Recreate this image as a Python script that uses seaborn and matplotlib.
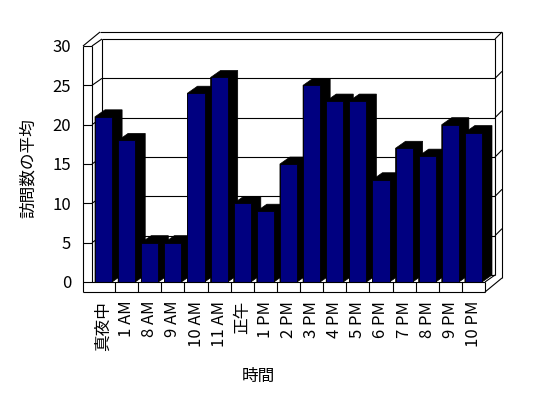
import matplotlib
matplotlib.use('Agg')
import matplotlib.pyplot as plt
from matplotlib.patches import Polygon
from matplotlib.lines import Line2D
import pandas as pd
import seaborn as sns

categories = ['真夜中', '1 AM', '8 AM', '9 AM', '10 AM', '11 AM', '正午', '1 PM', '2 PM',
              '3 PM', '4 PM', '5 PM', '6 PM', '7 PM', '8 PM', '9 PM', '10 PM']
visits = [21, 18, 5, 5, 24, 26, 10, 9, 15, 25, 23, 23, 13, 17, 16, 20, 19]
y_ticks = [0, 5, 10, 15, 20, 25, 30]
x_title = '時間'
y_title = '訪問数の平均'

sns.set_style('white')
plt.rcParams['font.family'] = ['Noto Sans CJK JP', 'DejaVu Sans']
plt.rcParams['text.color'] = 'black'
plt.rcParams['xtick.color'] = 'black'
plt.rcParams['ytick.color'] = 'black'
plt.rcParams['xtick.labelcolor'] = 'black'
plt.rcParams['ytick.labelcolor'] = 'black'

W, H = 548, 398
fig = plt.figure(figsize=(W / 100, H / 100), dpi=100)
L, R, T, B = 92, 485, 46, 282  # pixel box of the front plane
ax = fig.add_axes([L / W, 1 - B / H, (R - L) / W, (B - T) / H])

df = pd.DataFrame({'time': categories, 'visits': visits})
sns.barplot(data=df, x='time', y='visits', order=categories, color='#000080',
            saturation=1, width=0.74, edgecolor='black', linewidth=0.6,
            ax=ax, zorder=3)

n = len(categories)
xl, xr = -0.5, n - 0.5
ymax = y_ticks[-1]
ax.set_xlim(xl, xr)
ax.set_ylim(0, ymax)

sx = (R - L) / (xr - xl)
sy = (B - T) / ymax
DX, DY = 10 / sx, 7 / sy     # depth of inner planes
OX, OY = 17 / sx, 14 / sy    # depth of outer edges
WX = 9 / sx                  # wall thickness
FY = 10 / sy                 # floor thickness

# 3D shading of bars (top + side)
for p in list(ax.patches):
    x0 = p.get_x()
    x1 = x0 + p.get_width()
    h = p.get_height()
    ax.add_patch(Polygon([(x0, 0), (x1, 0), (x1 + DX, DY), (x1 + DX, h + DY),
                          (x0 + DX, h + DY), (x0, h)], closed=True,
                         facecolor='black', edgecolor='black', lw=0.5,
                         zorder=2, clip_on=False))

def seg(p, q, z=1, lw=0.8):
    ax.add_line(Line2D([p[0], q[0]], [p[1], q[1]], color='black', lw=lw,
                       zorder=z, clip_on=False, solid_capstyle='butt'))

# back wall & gridlines
seg((xl + DX, ymax + DY), (xr + DX, ymax + DY))
seg((xl - WX + OX, ymax + OY), (xr + OX, ymax + OY))
seg((xr + DX, ymax + DY), (xr + OX, ymax + OY))
seg((xl + DX, DY), (xl + DX, ymax + DY))
seg((xr + DX, DY), (xr + DX, ymax + DY))
seg((xr + OX, -FY + OY), (xr + OX, ymax + OY))
seg((xl + DX, DY), (xr + DX, DY))
for v in y_ticks[1:-1]:
    seg((xl, v), (xl + DX, v + DY))
    seg((xl + DX, v + DY), (xr + DX, v + DY))
    seg((xr + DX, v + DY), (xr + OX, v + OY))

# left wall (front)
seg((xl - WX, -FY), (xl - WX, ymax), z=4)
seg((xl, 0), (xl, ymax), z=4)
seg((xl - WX, ymax), (xl, ymax), z=4)
seg((xl - WX, ymax), (xl - WX + OX, ymax + OY), z=4)
seg((xl, ymax), (xl + DX, ymax + DY), z=4)
for v in y_ticks[1:-1]:
    seg((xl - WX, v), (xl, v), z=4)

# floor
seg((xl - WX, 0), (xr, 0), z=4)
seg((xl - WX, -FY), (xr, -FY), z=4)
seg((xr, -FY), (xr, 0), z=4)
seg((xr, 0), (xr + DX, DY), z=4)
seg((xr, -FY), (xr + OX, -FY + OY), z=4)
for t in ax.get_xticks()[:-1]:
    seg((t + 0.5, 0), (t + 0.5, -FY), z=4)

for s in ax.spines.values():
    s.set_visible(False)
ax.set_facecolor('none')
ax.grid(False)
ax.set_yticks(y_ticks)
ax.set_yticklabels([str(v) for v in y_ticks], fontsize=12)
ax.set_xticks(range(n))
ax.set_xticklabels(categories, rotation=90, fontsize=12)
ax.tick_params(axis='x', length=0, pad=13.5, labelcolor='black')
ax.tick_params(axis='y', length=0, pad=15, labelcolor='black')
ax.set_xlabel('')
ax.set_ylabel('')

fig.text(28 / W, 1 - 168 / H, y_title, rotation=90, ha='center', va='center',
         fontsize=12, color='black')
fig.text(258 / W, 1 - 376 / H, x_title, ha='center', va='center', fontsize=12,
         color='black')

fig.savefig('out.png', dpi=100, facecolor='white')
